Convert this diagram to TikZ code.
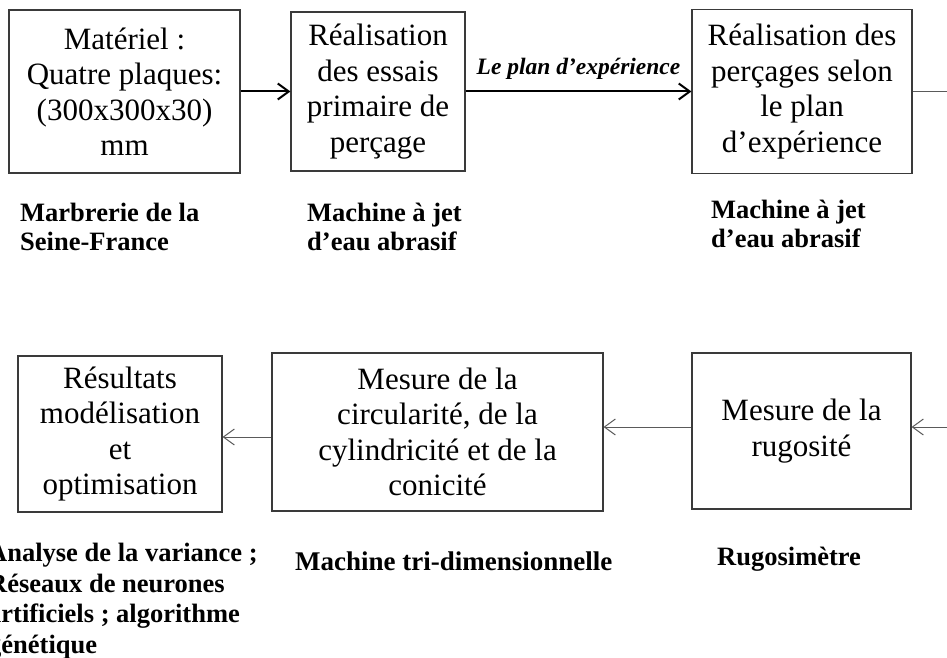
\documentclass[tikz,border=0pt]{standalone}
\usepackage{fontspec}
\setmainfont{Liberation Serif}
\usetikzlibrary{arrows.meta}
\definecolor{boxgray}{HTML}{3A3A3A}
\definecolor{linegray}{HTML}{5A5A5A}
\tikzset{
  stepbox/.style = {draw = boxgray, line width = 1.1pt, inner sep = 0pt, align = center,
    font = \fontsize{31}{35.5}\selectfont},
  toolnote/.style = {inner sep = 0pt, align = left, anchor = base west,
    font = \fontsize{26.5}{28.5}\selectfont\bfseries},
  mainarrow/.style = {draw = black, line width = 2pt, -{Straight Barb[length=11pt, width=16pt]}},
  backarrow/.style = {draw = linegray, line width = 1pt, -{Straight Barb[length=11pt, width=16pt]}}
}
\begin{document}
\begin{tikzpicture}[x = 1pt, y = -1pt]
	\useasboundingbox (0,0) rectangle (947,658);
	\clip (0,0) rectangle (947,658);
	% top row
	\node [stepbox, minimum width = 231, minimum height = 163] (mat) at (124.5,91.5)
		{Matériel :\\Quatre plaques:\\(300x300x30)\\mm};
	\node [stepbox, minimum width = 174, minimum height = 159] (essais) at (378,91.5)
		{Réalisation\\des essais\\primaire de\\perçage};
	\node [stepbox, minimum width = 220, minimum height = 164] (percages) at (802,91.5)
		{Réalisation des\\perçages selon\\le plan\\d’expérience};
	% bottom row
	\node [stepbox, minimum width = 204, minimum height = 156] (resultats) at (120,434)
		{Résultats\\modélisation\\et\\optimisation};
	\node [stepbox, minimum width = 331, minimum height = 158] (forme) at (437.5,432)
		{Mesure de la\\circularité, de la\\cylindricité et de la\\conicité};
	\node [stepbox, minimum width = 219, minimum height = 156] (rugo) at (801.5,431)
		{Mesure de la\\rugosité};
	% tools under the boxes (base = last line)
	\node [toolnote] (tmat) at (20,250) {Marbrerie de la\\Seine-France};
	\node [toolnote] (tessais) at (307,250) {Machine à jet\\d’eau abrasif};
	\node [toolnote] (tpercages) at (711,247) {Machine à jet\\d’eau abrasif};
	\node [toolnote, font = \fontsize{26.5}{30.5}\selectfont\bfseries] (tresultats) at (-12,653)
		{Analyse de la variance ;\\Réseaux de neurones\\artificiels ; algorithme\\génétique};
	\node [toolnote, font = \fontsize{27}{28.5}\selectfont\bfseries] (tforme) at (295,570) {Machine tri-dimensionnelle};
	\node [toolnote] (trugo) at (717,565) {Rugosimètre};
	% connectors
	\coordinate (outtop) at (947,91.5);
	\coordinate (inbot) at (947,427);
	\coordinate (rowb) at (0,427);
	\coordinate (rowc) at (0,437);
	\draw [mainarrow] (mat) -- (essais);
	\draw [mainarrow] (essais) -- node [above = 11pt, inner sep = 0pt,
		font = \fontsize{23.5}{27}\selectfont\bfseries\itshape] (plan) {Le plan d’expérience} (percages);
	\draw [linegray, line width = 1pt] (percages.east |- outtop) -- (outtop);
	\draw [backarrow] (inbot) -- (rugo.east |- rowb);
	\draw [backarrow] (rugo.west |- rowb) -- (forme.east |- rowb);
	\draw [backarrow] (forme.west |- rowc) -- (resultats.east |- rowc);
\end{tikzpicture}
\end{document}
